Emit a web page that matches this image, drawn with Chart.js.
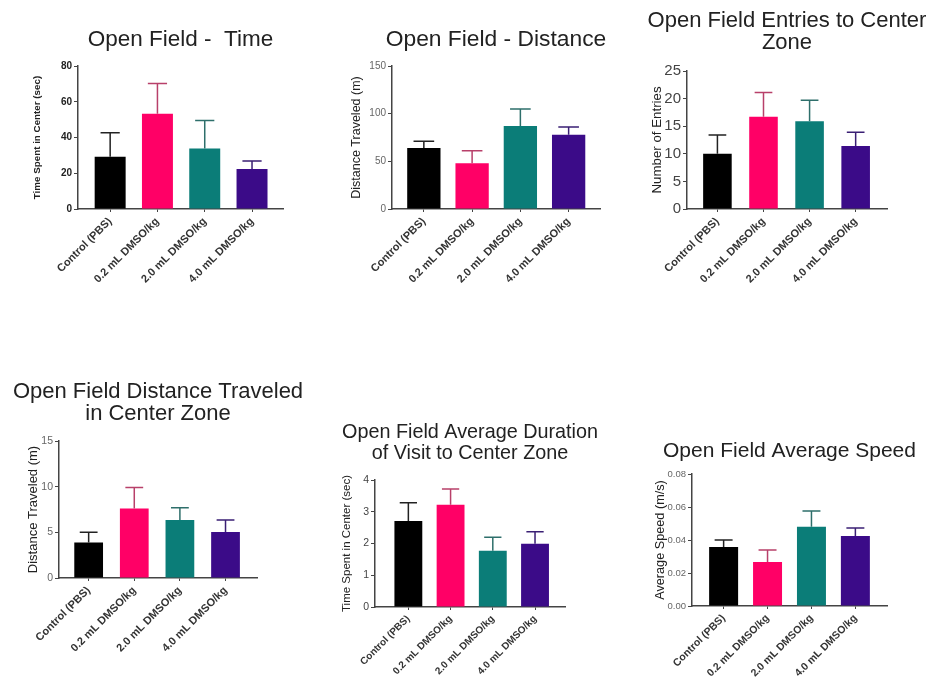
<!DOCTYPE html>
<html>
<head>
<meta charset="utf-8">
<script src="https://cdn.jsdelivr.net/npm/chart.js@4/dist/chart.umd.min.js"></script>
<style>
  html, body { margin: 0; padding: 0; background: #fff; width: 931px; height: 679px; overflow: hidden; }
  .panel { position: absolute; }
  .panel canvas { display: block; }
</style>
</head>
<body>
<script>
// Treatment groups shared by every panel
const groups = ['Control (PBS)', '0.2 mL DMSO/kg', '2.0 mL DMSO/kg', '4.0 mL DMSO/kg'];

// Time spent in center (sec): mean and top of error bar
const timeMean  = [29.3, 53.3, 33.8, 22.4];
const timeUpper = [42.6, 70.2, 49.5, 26.8];
const timeTicks = [0, 20, 40, 60, 80];

// Total distance traveled (m)
const distMean  = [64, 48, 87, 78];
const distUpper = [71, 61, 105, 86];
const distTicks = [0, 50, 100, 150];

// Number of entries to center zone
const entriesMean  = [10.0, 16.7, 15.9, 11.4];
const entriesUpper = [13.4, 21.1, 19.7, 13.9];
const entriesTicks = [0, 5, 10, 15, 20, 25];

// Distance traveled in center zone (m)
const centerDistMean  = [3.9, 7.6, 6.35, 5.05];
const centerDistUpper = [5.0, 9.9, 7.7, 6.35];
const centerDistTicks = [0, 5, 10, 15];

// Average duration of a visit to the center zone (sec)
const visitMean  = [2.71, 3.22, 1.77, 1.99];
const visitUpper = [3.28, 3.72, 2.20, 2.37];
const visitTicks = [0, 1, 2, 3, 4];

// Average speed (m/s)
const speedMean  = [0.0358, 0.0267, 0.0481, 0.0424];
const speedUpper = [0.0400, 0.0340, 0.0576, 0.0472];
const speedTicks = [0.00, 0.02, 0.04, 0.06, 0.08];

const barColors = ['#000000', '#FF0066', '#0B7D78', '#3B0B88'];
const errColors = ['#222222', '#B8406A', '#2E6F6B', '#3A1F74'];
const FONT = '"Liberation Sans", Arial, Helvetica, sans-serif';

// Upper-only error bars with a cap, drawn from the data through the y scale
function errorBars(upper) {
  return {
    id: 'errorBars',
    afterDatasetsDraw(chart) {
      const meta = chart.getDatasetMeta(0);
      const y = chart.scales.y;
      const ctx = chart.ctx;
      ctx.save();
      ctx.lineWidth = 1.5;
      meta.data.forEach((bar, i) => {
        const top = y.getPixelForValue(upper[i]);
        const half = bar.width * 0.31;
        ctx.strokeStyle = errColors[i];
        ctx.beginPath();
        ctx.moveTo(bar.x, bar.y);
        ctx.lineTo(bar.x, top);
        ctx.moveTo(bar.x - half, top);
        ctx.lineTo(bar.x + half, top);
        ctx.stroke();
      });
      ctx.restore();
    }
  };
}

// Panel heading centred over the plot area, one line per entry
function panelTitle(lines, size, spacing, firstY) {
  return {
    id: 'panelTitle',
    afterDraw(chart) {
      const ctx = chart.ctx;
      const cx = (chart.chartArea.left + chart.chartArea.right) / 2;
      ctx.save();
      ctx.fillStyle = '#222';
      ctx.font = `${size}px ${FONT}`;
      ctx.textAlign = 'center';
      ctx.textBaseline = 'middle';
      lines.forEach((t, i) => ctx.fillText(t, cx, firstY + i * spacing));
      ctx.restore();
    }
  };
}

const panels = [
  { title: ['Open Field -  Time'], titleSize: 22.5, titleGap: 0, titleY: 39.5,
    area: { l: 78, t: 66, r: 283, b: 209 }, axisW: 60,
    yTitle: 'Time Spent in Center (sec)', yTitleSize: 9.8, yTitleBold: true, yTitleX: 37,
    tickSize: 10, tickBold: true, tickColor: '#222', xFont: 11,
    ticks: timeTicks, mean: timeMean, upper: timeUpper, xMin: -0.68, xMax: 3.655, barPct: 0.655 },
  { title: ['Open Field - Distance'], titleSize: 22.8, titleGap: 0, titleY: 39.5,
    area: { l: 392, t: 66, r: 600, b: 209 }, axisW: 60,
    yTitle: 'Distance Traveled (m)', yTitleSize: 12.5, yTitleBold: false, yTitleX: 357,
    tickSize: 10, tickBold: false, tickColor: '#666', xFont: 11,
    ticks: distTicks, mean: distMean, upper: distUpper, xMin: -0.66, xMax: 3.65, barPct: 0.69 },
  { title: ['Open Field Entries to Center', 'Zone'], titleSize: 22, titleGap: 22.5, titleY: 20.5,
    area: { l: 687, t: 71, r: 887, b: 209 }, axisW: 60,
    yTitle: 'Number of Entries', yTitleSize: 13.3, yTitleBold: false, yTitleX: 657,
    tickSize: 15, tickBold: false, tickColor: '#444', xFont: 11,
    ticks: entriesTicks, mean: entriesMean, upper: entriesUpper, xMin: -0.66, xMax: 3.68, barPct: 0.62 },
  { title: ['Open Field Distance Traveled', 'in Center Zone'], titleSize: 22, titleGap: 21.5, titleY: 392,
    area: { l: 59, t: 441, r: 257, b: 578 }, axisW: 55,
    yTitle: 'Distance Traveled (m)', yTitleSize: 13, yTitleBold: false, yTitleX: 33,
    tickSize: 10.5, tickBold: false, tickColor: '#666', xFont: 11,
    ticks: centerDistTicks, mean: centerDistMean, upper: centerDistUpper, xMin: -0.65, xMax: 3.69, barPct: 0.63 },
  { title: ['Open Field Average Duration', 'of Visit to Center Zone'], titleSize: 19.8, titleGap: 21, titleY: 432.5,
    area: { l: 375, t: 480, r: 565, b: 607 }, axisW: 60,
    yTitle: 'Time Spent in Center (sec)', yTitleSize: 11.5, yTitleBold: false, yTitleX: 347,
    tickSize: 10.5, tickBold: false, tickColor: '#444', xFont: 10,
    ticks: visitTicks, mean: visitMean, upper: visitUpper, xMin: -0.79, xMax: 3.71, barPct: 0.66 },
  { title: ['Open Field Average Speed'], titleSize: 21, titleGap: 0, titleY: 451,
    area: { l: 692, t: 474, r: 887, b: 606 }, axisW: 60,
    yTitle: 'Average Speed (m/s)', yTitleSize: 12.7, yTitleBold: false, yTitleX: 660,
    tickSize: 9.5, tickBold: false, tickColor: '#666', decimals: 2, xFont: 10.5,
    ticks: speedTicks, mean: speedMean, upper: speedUpper, xMin: -0.72, xMax: 3.72, barPct: 0.66 }
];

const X_AXIS_H = 95;
const SIDE = 50;   // spare canvas room either side so long headings are not clipped

panels.forEach(p => {
  const a = p.area;
  const top = Math.floor(p.titleY - p.titleSize);
  const axisLeft = a.l - p.axisW;
  const left = axisLeft - SIDE;
  const width = a.r - left + SIDE;
  const height = a.b - top + X_AXIS_H;

  const div = document.createElement('div');
  div.className = 'panel';
  Object.assign(div.style, { left: left + 'px', top: top + 'px', width: width + 'px', height: height + 'px' });
  const canvas = document.createElement('canvas');
  div.appendChild(canvas);
  document.body.appendChild(div);

  const yTitleLH = p.yTitleSize * 1.2;
  const yMin = p.ticks[0], yMax = p.ticks[p.ticks.length - 1];
  const yStep = p.ticks[1] - p.ticks[0];

  new Chart(canvas, {
    type: 'bar',
    data: {
      datasets: [{
        data: p.mean.map((v, i) => ({ x: i, y: v })),
        backgroundColor: barColors,
        borderWidth: 0,
        barPercentage: p.barPct,
        categoryPercentage: 1
      }]
    },
    options: {
      responsive: true,
      maintainAspectRatio: false,
      animation: false,
      devicePixelRatio: 1,
      layout: { padding: { left: SIDE, top: a.t - top, right: SIDE, bottom: 0 } },
      plugins: {
        legend: { display: false },
        tooltip: { enabled: false },
        title: { display: false }
      },
      scales: {
        x: {
          type: 'linear',
          min: p.xMin,
          max: p.xMax,
          offset: false,
          afterBuildTicks: s => { s.ticks = groups.map((g, i) => ({ value: i })); },
          afterFit: s => { s.height = X_AXIS_H; },
          grid: { drawOnChartArea: false, drawTicks: true, tickLength: 3, color: '#444', offset: false },
          border: { display: true, color: '#444', width: 1.5 },
          ticks: {
            autoSkip: false,
            minRotation: 45,
            maxRotation: 45,
            padding: 3,
            color: '#333',
            font: { family: FONT, size: p.xFont, weight: 'bold' },
            callback: v => groups[v] ?? ''
          }
        },
        y: {
          type: 'linear',
          min: yMin,
          max: yMax,
          afterFit: s => { s.width = p.axisW; },
          grid: { drawOnChartArea: false, drawTicks: true, tickLength: 4, color: '#444' },
          border: { display: true, color: '#444', width: 1.5 },
          ticks: {
            stepSize: yStep,
            padding: 2,
            color: p.tickColor,
            font: { family: FONT, size: p.tickSize, weight: p.tickBold ? 'bold' : 'normal' },
            callback: v => p.decimals ? Number(v).toFixed(p.decimals) : v
          },
          title: {
            display: true,
            text: p.yTitle,
            color: '#222',
            font: { family: FONT, size: p.yTitleSize, lineHeight: 1.2, weight: p.yTitleBold ? 'bold' : 'normal' },
            padding: { top: p.yTitleX - axisLeft - yTitleLH / 2, bottom: 0 }
          }
        }
      }
    },
    plugins: [errorBars(p.upper), panelTitle(p.title, p.titleSize, p.titleGap, p.titleY - top)]
  });
});
</script>
</body>
</html>
